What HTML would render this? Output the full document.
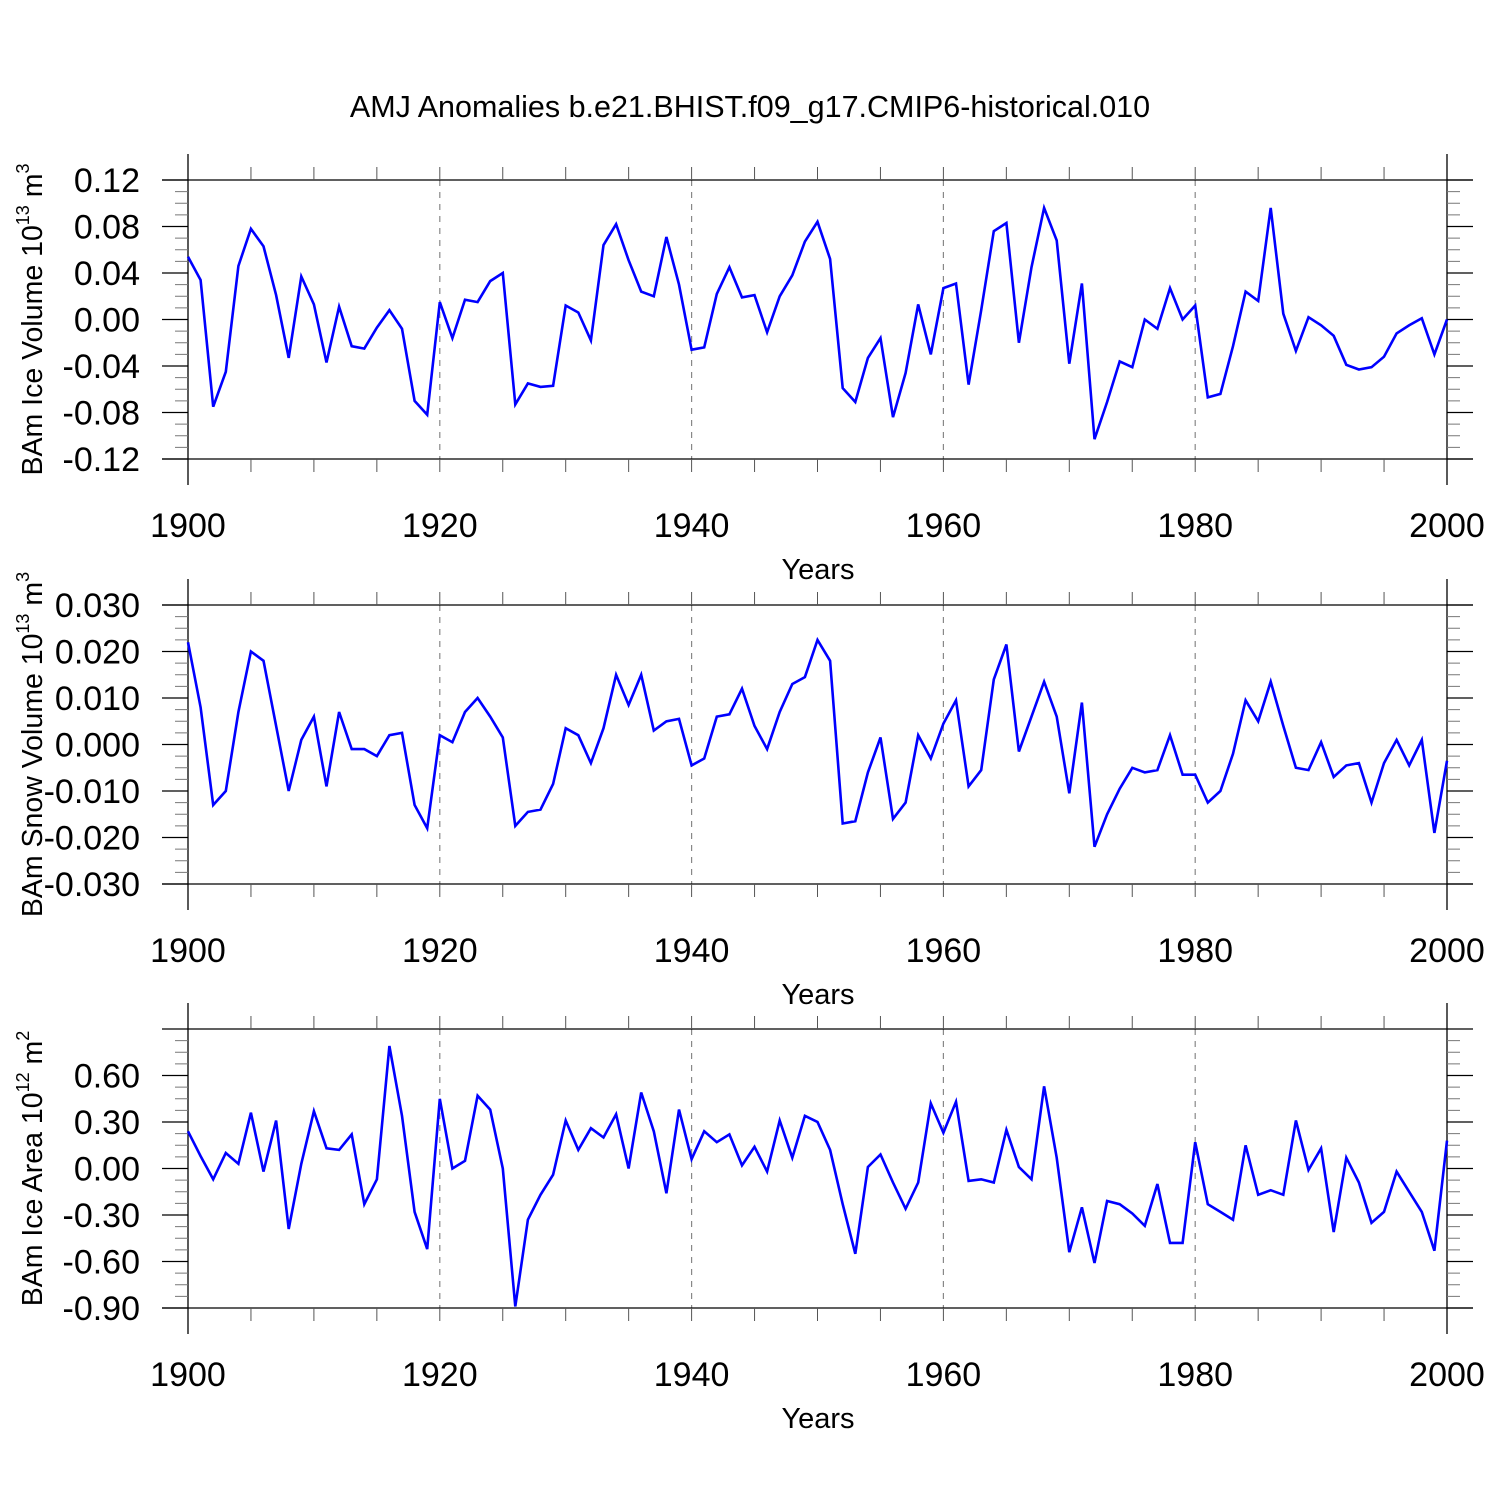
<!DOCTYPE html>
<html><head><meta charset="utf-8"><style>
body{margin:0;background:#fff}
svg{display:block;font-family:"Liberation Sans",sans-serif}
</style></head><body>
<svg id="c" width="1500" height="1500" viewBox="0 0 1500 1500">
<text x="750" y="117" text-anchor="middle" font-size="30.5">AMJ Anomalies b.e21.BHIST.f09_g17.CMIP6-historical.010</text>
</svg>
<script>
const years=[];for(let y=1900;y<=2000;y++)years.push(y);
const iceVolume=[0.054,0.034,-0.075,-0.045,0.046,0.078,0.063,0.021,-0.033,0.037,0.013,-0.037,0.011,-0.023,-0.025,-0.007,0.008,-0.008,-0.070,-0.082,0.015,-0.016,0.017,0.015,0.033,0.040,-0.073,-0.055,-0.058,-0.057,0.012,0.006,-0.018,0.064,0.082,0.051,0.024,0.020,0.071,0.030,-0.026,-0.024,0.022,0.045,0.019,0.021,-0.011,0.020,0.038,0.067,0.084,0.052,-0.059,-0.071,-0.033,-0.016,-0.084,-0.046,0.013,-0.030,0.027,0.031,-0.056,0.008,0.076,0.083,-0.020,0.045,0.096,0.068,-0.038,0.031,-0.103,-0.071,-0.036,-0.041,0.000,-0.008,0.027,0.000,0.012,-0.067,-0.064,-0.023,0.024,0.016,0.096,0.005,-0.027,0.002,-0.005,-0.014,-0.039,-0.043,-0.041,-0.032,-0.012,-0.005,0.001,-0.030,0.000];
const snowVolume=[0.022,0.008,-0.013,-0.010,0.007,0.020,0.018,0.004,-0.010,0.001,0.006,-0.009,0.007,-0.001,-0.001,-0.0025,0.002,0.0025,-0.013,-0.018,0.002,0.0005,0.007,0.010,0.006,0.0015,-0.0175,-0.0145,-0.014,-0.0085,0.0035,0.002,-0.004,0.0035,0.015,0.0085,0.015,0.003,0.005,0.0055,-0.0045,-0.003,0.006,0.0065,0.012,0.004,-0.001,0.007,0.013,0.0145,0.0225,0.018,-0.017,-0.0165,-0.006,0.0015,-0.016,-0.0125,0.002,-0.003,0.0045,0.0095,-0.009,-0.0055,0.014,0.0215,-0.0015,0.006,0.0135,0.006,-0.0105,0.009,-0.022,-0.015,-0.0095,-0.005,-0.006,-0.0055,0.002,-0.0065,-0.0065,-0.0125,-0.010,-0.002,0.0095,0.005,0.0135,0.004,-0.005,-0.0055,0.0005,-0.007,-0.0045,-0.004,-0.0125,-0.004,0.001,-0.0045,0.001,-0.019,-0.0035];
const iceArea=[0.24,0.08,-0.07,0.10,0.03,0.36,-0.02,0.31,-0.39,0.03,0.37,0.13,0.12,0.22,-0.23,-0.07,0.79,0.34,-0.28,-0.52,0.45,0.00,0.05,0.47,0.38,0.00,-0.89,-0.33,-0.17,-0.04,0.31,0.12,0.26,0.20,0.35,0.00,0.49,0.24,-0.16,0.38,0.06,0.24,0.17,0.22,0.02,0.14,-0.02,0.31,0.07,0.34,0.30,0.12,-0.23,-0.55,0.01,0.09,-0.09,-0.26,-0.09,0.42,0.23,0.43,-0.08,-0.07,-0.09,0.25,0.01,-0.07,0.53,0.07,-0.54,-0.25,-0.61,-0.21,-0.23,-0.29,-0.37,-0.10,-0.48,-0.48,0.17,-0.23,-0.28,-0.33,0.15,-0.17,-0.14,-0.17,0.31,-0.01,0.13,-0.41,0.07,-0.09,-0.35,-0.28,-0.02,-0.15,-0.28,-0.53,0.18];
const xTickLabels=["1900","1920","1940","1960","1980","2000"];
const ticks1=["-0.12","-0.08","-0.04","0.00","0.04","0.08","0.12"];
const ticks2=["-0.030","-0.020","-0.010","0.000","0.010","0.020","0.030"];
const ticks3=["-0.90","-0.60","-0.30","0.00","0.30","0.60"];

const NS="http://www.w3.org/2000/svg";
const svg=document.getElementById('c');
function mk(tag,attrs,parent){const e=document.createElementNS(NS,tag);for(const k in attrs)e.setAttribute(k,attrs[k]);(parent||svg).appendChild(e);return e;}
const X0=188,X1=1447;
const xs=v=>X0+(v-1900)*(X1-X0)/100;

function panel(cfg){
  const g=mk('g',{});
  
  
  const ys=v=>cfg.bot-(v-cfg.ymin)*(cfg.bot-cfg.top)/(cfg.ymax-cfg.ymin);
  for(let yr=1920;yr<=1980;yr+=20){
    const l=mk('line',{x1:xs(yr),x2:xs(yr),y1:cfg.top,y2:cfg.bot,stroke:'#888','stroke-width':1.2,'stroke-dasharray':'6,6'},g);
    
    
  }
  mk('line',{x1:162,x2:1473,y1:cfg.top,y2:cfg.top,stroke:'#000','stroke-width':1.3},g);
  mk('line',{x1:162,x2:1473,y1:cfg.bot,y2:cfg.bot,stroke:'#000','stroke-width':1.3},g);
  mk('line',{x1:X0,x2:X0,y1:cfg.top-26,y2:cfg.bot+26,stroke:'#000','stroke-width':1.3},g);
  mk('line',{x1:X1,x2:X1,y1:cfg.top-26,y2:cfg.bot+26,stroke:'#000','stroke-width':1.3},g);
  for(let yr=1905;yr<2000;yr+=5){
    mk('line',{x1:xs(yr),x2:xs(yr),y1:cfg.top-13,y2:cfg.top,stroke:'#555','stroke-width':1},g);
    mk('line',{x1:xs(yr),x2:xs(yr),y1:cfg.bot,y2:cfg.bot+13,stroke:'#555','stroke-width':1},g);
  }
  const nMin=Math.round((cfg.ymax-cfg.ymin)/cfg.minor);
  for(let i=1;i<nMin;i++){
    const y=ys(cfg.ymin+i*cfg.minor);
    mk('line',{x1:175,x2:X0,y1:y,y2:y,stroke:'#777','stroke-width':1},g);
    mk('line',{x1:X1,x2:1460,y1:y,y2:y,stroke:'#777','stroke-width':1},g);
  }
  cfg.labels.forEach(s=>{
    const v=parseFloat(s);const y=ys(v);
    mk('line',{x1:162,x2:X0,y1:y,y2:y,stroke:'#000','stroke-width':1.2},g);
    mk('line',{x1:X1,x2:1473,y1:y,y2:y,stroke:'#000','stroke-width':1.2},g);
    const t=mk('text',{x:140,y:y+12,'text-anchor':'end','font-size':34},g);
    t.textContent=s;
    
    
  });
  xTickLabels.forEach(s=>{
    const t=mk('text',{x:xs(+s),y:cfg.bot+78,'text-anchor':'middle','font-size':34},g);
    t.textContent=s;
    
    
  });
  const xt=mk('text',{x:818,y:cfg.bot+120,'text-anchor':'middle','font-size':29},g);
  xt.textContent='Years';
  
  
  const cy=(cfg.top+cfg.bot)/2;
  const yt=mk('text',{x:0,y:0,'text-anchor':'middle','font-size':28.5,transform:`translate(42,${cy}) rotate(-90)`},g);
  yt.innerHTML=cfg.ytitle;
  
  
  const pts=cfg.data.map((v,i)=>xs(years[i]).toFixed(1)+','+ys(v).toFixed(1)).join(' ');
  const pl=mk('polyline',{points:pts,fill:'none',stroke:'#0000ff','stroke-width':2.6,'stroke-linejoin':'miter'},g);
  
  
}
panel({name:'ice-volume-panel',top:180,bot:459,ymin:-0.12,ymax:0.12,minor:0.01,labels:ticks1,data:iceVolume,
  ytitle:'BAm Ice Volume 10<tspan dy="-13" font-size="18">13</tspan><tspan dy="13"> m</tspan><tspan dy="-13" font-size="18">3</tspan>'});
panel({name:'snow-volume-panel',top:605,bot:884,ymin:-0.03,ymax:0.03,minor:0.0025,labels:ticks2,data:snowVolume,
  ytitle:'BAm Snow Volume 10<tspan dy="-13" font-size="18">13</tspan><tspan dy="13"> m</tspan><tspan dy="-13" font-size="18">3</tspan>'});
panel({name:'ice-area-panel',top:1029,bot:1308,ymin:-0.9,ymax:0.9,minor:0.075,labels:ticks3,data:iceArea,
  ytitle:'BAm Ice Area 10<tspan dy="-13" font-size="18">12</tspan><tspan dy="13"> m</tspan><tspan dy="-13" font-size="18">2</tspan>'});
</script>
</body></html>
